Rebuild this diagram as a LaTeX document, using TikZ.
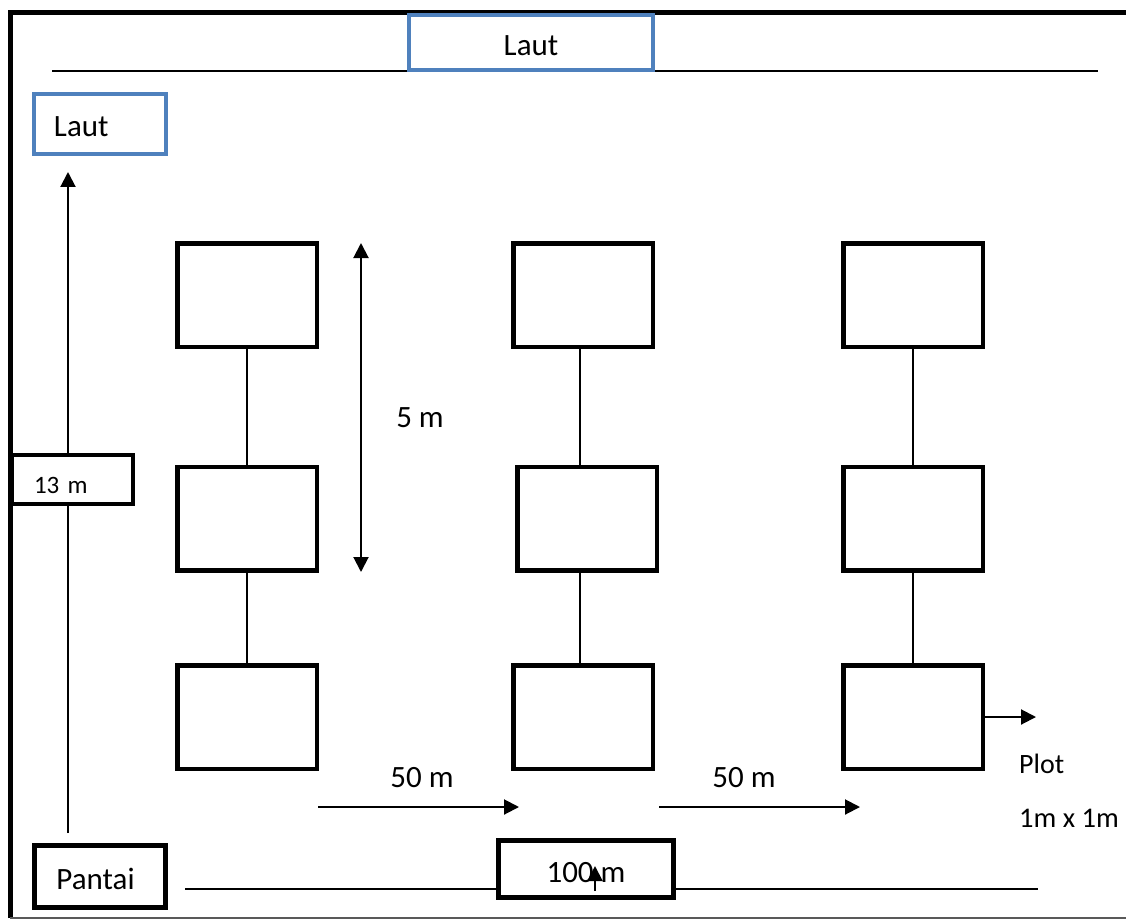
\documentclass[tikz,border=0pt]{standalone}
\usepackage{fontspec}
\setmainfont{Carlito}
\usetikzlibrary{arrows.meta}
\definecolor{boxblue}{RGB}{79,129,189}
% lower a text inside its box without changing the size it reports
\newcommand{\dropby}[2]{\raisebox{-#1}[\height][\depth]{#2}}
\begin{document}
\begin{tikzpicture}[x=1pt,y=-1pt,
  plotbox/.style={draw,line width=4.5pt,minimum width=139.5pt,minimum height=103.5pt,inner sep=0pt},
  labelbox/.style={draw,fill=white,line width=5pt,inner sep=0pt,font=\fontsize{31}{35}\selectfont},
  seabox/.style={draw=boxblue,fill=white,line width=4pt,inner sep=0pt,font=\fontsize{31}{35}\selectfont},
  lbl/.style={font=\fontsize{31}{35}\selectfont,inner sep=0pt},
  thinline/.style={line width=1.6pt},
  arr/.style={line width=2pt,-{Triangle[length=15pt,width=15pt]}},
  dblarr/.style={line width=2pt,{Triangle[length=15pt,width=15pt]}-{Triangle[length=15pt,width=15pt]}}]
\useasboundingbox (0,0) rectangle (1126,920);

% outer frame
\draw[line width=5pt] (10,918) -- (10,13) -- (1135,13);
\draw[black!65,line width=2pt] (10,918) -- (1126,918);

% shore lines
\draw[thinline] (52,71) -- (1098,71);
\draw[thinline] (185,889) -- (1038,889);

% sea and beach labels
\node[seabox,minimum width=244pt,minimum height=55pt] (lautTop) at (531,42.5) {\dropby{3pt}{Laut}};
\node[seabox,minimum height=60pt,text width=132pt,align=left] (lautLeft) at (100,124) {\hspace*{20pt}\dropby{3pt}{Laut}};
\node[labelbox,minimum width=131pt,minimum height=62pt] (pantai) at (100,876.5) {\hspace*{-9pt}\dropby{2pt}{Pantai}};

% transect length arrow
\coordinate (tStart) at (68,833);
\coordinate (tEnd) at (68,172);
\draw[arr] (tStart) -- (tEnd);
\node[labelbox,line width=4pt,minimum width=121pt,minimum height=49pt,text width=121pt,align=left,font=\fontsize{25}{28}\selectfont] (len) at (72.5,479.5) {\hspace*{22pt}\dropby{6pt}{13 m}};

% 100 m label on the shore line
\node[labelbox,minimum width=175pt,minimum height=57pt] (hundred) at (586,869) {\dropby{4pt}{100 m}};
\coordinate (hA) at (595,891);
\coordinate (hB) at (595,866);
\draw[arr] (hA) -- (hB);

% plots, three transects of three plots
\node[plotbox] (p11) at (247,295) {};
\node[plotbox] (p21) at (247,518.5) {};
\node[plotbox] (p31) at (247,717) {};
\node[plotbox] (p12) at (583,295) {};
\node[plotbox] (p22) at (587,518.5) {};
\node[plotbox] (p32) at (583,717) {};
\node[plotbox] (p13) at (913,295) {};
\node[plotbox] (p23) at (913,518.5) {};
\node[plotbox] (p33) at (913,717) {};

% transect lines between plots
\draw[thinline] (p11.south) -- (p21.north);
\draw[thinline] (p21.south) -- (p31.north);
\draw[thinline] ([xshift=-3pt]p12.south) -- ([xshift=-3pt]p12.south |- p22.north);
\draw[thinline] ([xshift=-3pt]p32.north |- p22.south) -- ([xshift=-3pt]p32.north);
\draw[thinline] (p13.south) -- (p23.north);
\draw[thinline] (p23.south) -- (p33.north);

% plot spacing
\coordinate (vTop) at (361,243);
\coordinate (vBot) at (361,572);
\draw[dblarr] (vBot) -- (vTop);
\node[lbl] (five) at (420,418) {5 m};

% transect spacing
\coordinate (s1a) at (318,807);
\coordinate (s1b) at (519,807);
\coordinate (s2a) at (659,807);
\coordinate (s2b) at (860,807);
\draw[arr] (s1a) -- (s1b);
\draw[arr] (s2a) -- (s2b);
\node[lbl] (fiftyA) at (422,778) {50 m};
\node[lbl] (fiftyB) at (744,778) {50 m};

% plot size
\coordinate (pEnd) at (1036,717);
\draw[arr] (p33.east |- pEnd) -- (pEnd);
\node[lbl,anchor=west,font=\fontsize{28}{32}\selectfont] (plotTxt) at (1019,764) {Plot};
\node[lbl,anchor=west,font=\fontsize{28.5}{32}\selectfont] (sizeTxt) at (1019,818) {1m x 1m};
\end{tikzpicture}
\end{document}
